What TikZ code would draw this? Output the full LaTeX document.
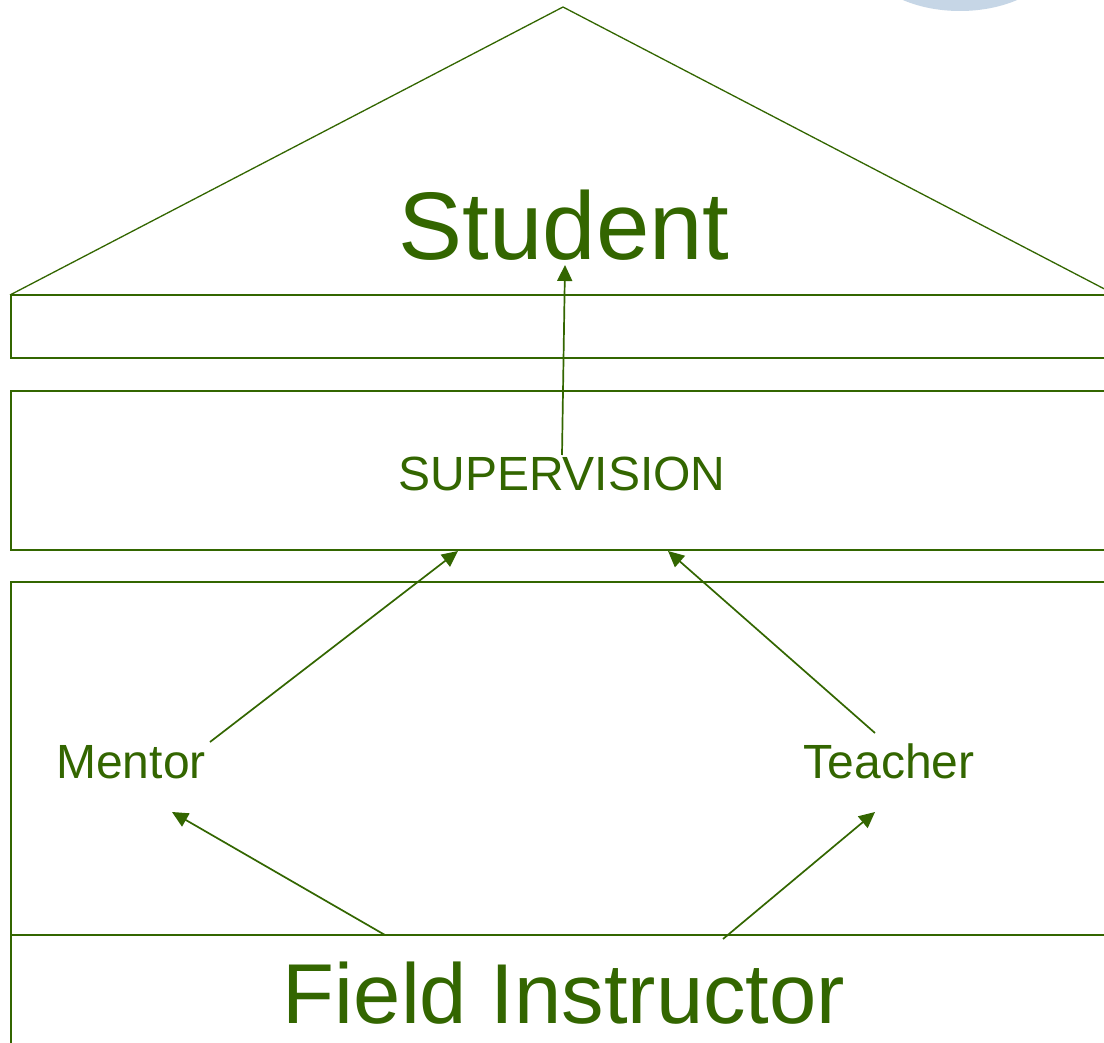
\documentclass[tikz,border=0pt]{standalone}
\usepackage{fontspec}
\setmainfont{Liberation Sans}
\usetikzlibrary{arrows.meta}
\definecolor{leaf}{RGB}{51,102,0}
\definecolor{haze}{RGB}{198,214,230}
\tikzset{
  frame/.style={draw=leaf, line width=1.5pt},
  roofline/.style={draw=leaf, line width=1.3pt},
  link/.style={draw=leaf, line width=1.7pt, -{Triangle[length=16pt,width=15pt]}},
  label/.style={text=leaf, inner sep=0pt, anchor=base},
}
\newcommand{\fs}[1]{\fontsize{#1}{#1}\selectfont}
\begin{document}
\begin{tikzpicture}[x=1pt,y=-1pt]
\useasboundingbox (0,0) rectangle (1104,1043);
\clip (0,0) rectangle (1104,1043);
\fill[white] (0,0) rectangle (1104,1043);
% pale emblem peeking in at the top edge
\fill[haze] (960,-49) ellipse [x radius=99, y radius=60];
% roof
\draw[roofline] (10,295) -- (563,7) -- (1116,295);
% bands
\draw[frame] (11,295) rectangle (1120,358);
\draw[frame] (11,391) rectangle (1120,550);
\draw[frame] (11,582) rectangle (1120,935);
\draw[frame] (1120,935) -- (11,935) -- (11,1060);
% labels
\node[label] (student) at (564,260) {\fs{96}Student};
\node[label] (sup) at (562,490) {\fs{48}SUPERVISION};
\node[label] (mentor) at (131,778) {\fs{48}Mentor};
\node[label] (teacher) at (889,778) {\fs{48}Teacher};
\node[label] (field) at (564,1023) {\fs{85}Field Instructor};
% connector ends
\coordinate (supTop) at (562,455);
\coordinate (studentFoot) at (565,265);
\coordinate (supBaseL) at (458,551);
\coordinate (supBaseR) at (668,551);
\coordinate (mentorOut) at (210,742);
\coordinate (mentorIn) at (172,812);
\coordinate (teacherOut) at (875,733);
\coordinate (teacherIn) at (875,812);
\coordinate (fieldL) at (385,935);
\coordinate (fieldR) at (723,939);
% connectors
\draw[link] (supTop) -- (studentFoot);
\draw[link] (mentorOut) -- (supBaseL);
\draw[link] (teacherOut) -- (supBaseR);
\draw[link] (fieldL) -- (mentorIn);
\draw[link] (fieldR) -- (teacherIn);
\end{tikzpicture}
\end{document}
